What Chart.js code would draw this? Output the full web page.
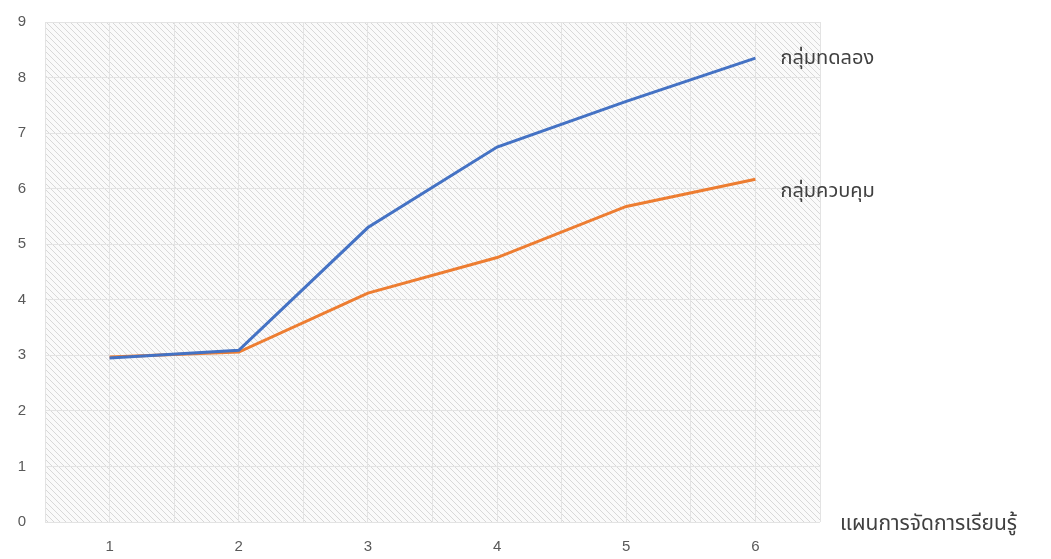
<!DOCTYPE html>
<html>
<head>
<meta charset="utf-8">
<script src="https://cdn.jsdelivr.net/npm/chart.js@4/dist/chart.umd.min.js"></script>
<style>
  html, body { margin: 0; padding: 0; background: #fff; }
  #wrap { width: 1051px; height: 559px; }
</style>
</head>
<body>
<div id="wrap"><canvas id="chart-lesson"></canvas></div>
<script>
var lessons = [1, 2, 3, 4, 5, 6];
var experimental = [2.95, 3.09, 5.3, 6.75, 7.57, 8.35];
var control = [2.97, 3.06, 4.12, 4.76, 5.68, 6.17];
var seriesNames = ['กลุ่มทดลอง', 'กลุ่มควบคุม'];
var xTitle = 'แผนการจัดการเรียนรู้';
var thaiFont = '"Noto Sans Thai", "Noto Sans", "DejaVu Sans", sans-serif';

function toPoints(values) {
  return lessons.map(function (l, i) { return { x: l, y: values[i] }; });
}

// diagonal hatch used as the plot background
function hatch() {
  var c = document.createElement('canvas');
  c.width = 6; c.height = 6;
  var g = c.getContext('2d');
  g.fillStyle = '#fafafa';
  g.fillRect(0, 0, 6, 6);
  g.strokeStyle = '#d8d8d8';
  g.lineWidth = 1;
  g.beginPath();
  g.moveTo(-1, -1); g.lineTo(7, 7);
  g.moveTo(-1, 5); g.lineTo(1, 7);
  g.moveTo(5, -1); g.lineTo(7, 1);
  g.stroke();
  return g.createPattern(c, 'repeat');
}

var backdrop = {
  id: 'backdrop',
  beforeDraw: function (chart) {
    var a = chart.chartArea, ctx = chart.ctx;
    ctx.save();
    ctx.fillStyle = hatch();
    ctx.fillRect(a.left, a.top, a.right - a.left, a.bottom - a.top);
    ctx.restore();
  }
};

var endLabels = {
  id: 'endLabels',
  afterDatasetsDraw: function (chart) {
    var ctx = chart.ctx;
    ctx.save();
    ctx.font = '20px ' + thaiFont;
    ctx.fillStyle = '#404040';
    ctx.textBaseline = 'middle';
    chart.data.datasets.forEach(function (ds, i) {
      var pts = chart.getDatasetMeta(i).data;
      var last = pts[pts.length - 1];
      ctx.fillText(ds.label, last.x + 25, last.y + (i === 0 ? 2 : 14));
    });
    var y0 = chart.scales.y.getPixelForValue(0);
    ctx.font = '21px ' + thaiFont;
    ctx.fillText(xTitle, chart.chartArea.right + 20, y0 + 4);
    ctx.restore();
  }
};

new Chart(document.getElementById('chart-lesson').getContext('2d'), {
  type: 'line',
  data: {
    datasets: [{
      label: seriesNames[0],
      data: toPoints(experimental),
      borderColor: '#4472C4',
      borderWidth: 3,
      pointRadius: 0,
      tension: 0
    }, {
      label: seriesNames[1],
      data: toPoints(control),
      borderColor: '#ED7D31',
      borderWidth: 3,
      pointRadius: 0,
      tension: 0
    }]
  },
  options: {
    responsive: true,
    maintainAspectRatio: false,
    animation: false,
    layout: { padding: { top: 22, right: 231, left: 0, bottom: 0 } },
    plugins: { legend: { display: false }, tooltip: { enabled: false } },
    scales: {
      x: {
        type: 'linear',
        min: 0.5,
        max: 6.5,
        ticks: {
          stepSize: 0.5,
          color: '#595959',
          font: { size: 15, lineHeight: 2 },
          padding: 10,
          callback: function (v) { return Number.isInteger(v) ? v : ''; }
        },
        grid: { color: '#e3e3e3', drawTicks: false },
        border: { display: false },
        afterFit: function (s) { s.height = 37; s.paddingLeft = 0; s.paddingRight = 0; }
      },
      y: {
        min: 0,
        max: 9,
        ticks: { stepSize: 1, color: '#595959', font: { size: 15 }, padding: 19 },
        grid: { color: '#e3e3e3', drawTicks: false },
        border: { display: false },
        afterFit: function (s) { s.width = 45; s.paddingTop = 0; s.paddingBottom = 0; }
      }
    }
  },
  plugins: [backdrop, endLabels]
});
</script>
</body>
</html>
